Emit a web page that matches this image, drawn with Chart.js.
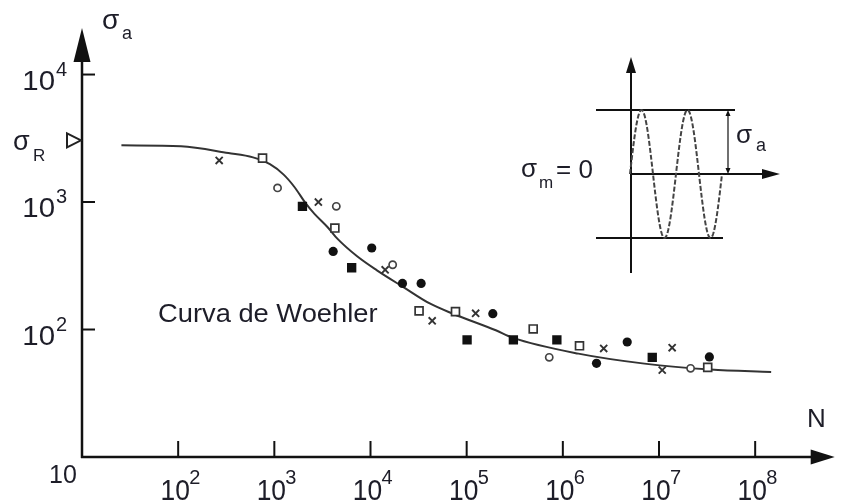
<!DOCTYPE html>
<html><head><meta charset="utf-8">
<script src="https://cdn.jsdelivr.net/npm/chart.js@4"></script>
<style>html,body{margin:0;padding:0;background:#fff;}canvas{display:block}</style>
</head><body>
<canvas id="c" width="842" height="502"></canvas>
<script>
// ---- data (N = cycles, S = stress amplitude) ----
const curveN = [25.7, 107, 333, 600, 900, 1250, 1618, 2133, 2600, 3565, 4520, 7260, 11670, 21980, 41300, 71900, 201000, 298500, 1.45e6, 7.05e6, 3.43e7, 1.466e8];
const curveS = [2786, 2735, 2421, 2240, 1980, 1640, 1312, 971, 811, 637, 516, 375, 291, 215, 160, 133, 98.6, 86.4, 64.7, 54.0, 48.5, 46.4];

const crossN = [267, 2870, 14200, 43800, 124000, 2.66e6, 1.37e7, 1.08e7];
const crossS = [2120, 1000, 294, 117, 134, 71, 72, 48];

const openSqN = [754, 4260, 32000, 76500, 492000, 1.49e6, 3.21e7];
const openSqS = [2210, 625, 140, 138, 101, 74.5, 50.5];

const openCircN = [1080, 4410, 17000, 722000, 2.13e7];
const openCircS = [1290, 925, 322, 60.5, 49.6];

const fillSqN = [1960, 6370, 101000, 306000, 867000, 8.51e6];
const fillSqS = [925, 305, 83, 83, 83, 60.5];

const fillCircN = [4090, 10300, 21500, 33600, 187000, 2.24e6, 4.67e6, 3.34e7];
const fillCircS = [410, 436, 230, 230, 133, 54.3, 79.8, 60.9];

const sigmaR = 3050;

const xTicks = [1e2, 1e3, 1e4, 1e5, 1e6, 1e7, 1e8];
const xTickExp = ['2', '3', '4', '5', '6', '7', '8'];
const yTicks = [1e2, 1e3, 1e4];
const yTickExp = ['2', '3', '4'];

const pts = (a, b) => a.map((v, i) => ({ x: v, y: b[i] }));

const INK = '#1d1d28';
const FONT = '"Liberation Sans", Arial, Helvetica, sans-serif';

function txt(ctx, s, x, y, size, align, sx) {
  ctx.save();
  ctx.font = size + 'px ' + FONT;
  ctx.textAlign = align || 'left';
  ctx.textBaseline = 'alphabetic';
  ctx.fillStyle = INK;
  ctx.translate(x, y);
  ctx.scale(sx || 1, 1);
  ctx.fillText(s, 0, 0);
  ctx.restore();
}
function seg(ctx, x1, y1, x2, y2) { ctx.beginPath(); ctx.moveTo(x1, y1); ctx.lineTo(x2, y2); ctx.stroke(); }
function tri(ctx, p) { ctx.beginPath(); ctx.moveTo(p[0], p[1]); ctx.lineTo(p[2], p[3]); ctx.lineTo(p[4], p[5]); ctx.closePath(); ctx.fill(); }

const axesPlugin = {
  id: 'axesPlugin',
  beforeDatasetsDraw(chart) {
    const ctx = chart.ctx, a = chart.chartArea, sx = chart.scales.x, sy = chart.scales.y;
    const X = v => sx.getPixelForValue(v), Y = v => sy.getPixelForValue(v);
    const x0 = a.left, y0 = a.bottom;
    ctx.save();
    ctx.strokeStyle = '#111'; ctx.fillStyle = '#111'; ctx.lineCap = 'butt';
    ctx.lineWidth = 2.5;
    seg(ctx, x0, y0 + 1, x0, a.top + 30);
    seg(ctx, x0 - 1, y0, a.right - 20, y0);
    tri(ctx, [x0, a.top, x0 - 8.5, a.top + 34, x0 + 8.5, a.top + 34]);
    tri(ctx, [a.right, y0, a.right - 24, y0 - 7.5, a.right - 24, y0 + 7.5]);
    ctx.lineWidth = 2;
    xTicks.forEach((v, i) => {
      const px = X(v);
      seg(ctx, px, y0, px, y0 - 16);
      txt(ctx, '10', px - 3, 500, 30, 'center', 0.88);
      txt(ctx, xTickExp[i], px + 11, 484, 20, 'left');
    });
    yTicks.forEach((v, i) => {
      const py = Y(v);
      seg(ctx, x0, py, x0 + 13, py);
      txt(ctx, '10', 55, py + 15, 28, 'right', 1.05);
      txt(ctx, yTickExp[i], 56, py + 1, 20, 'left');
    });
    txt(ctx, '10', 63, 483, 25, 'center');
    // sigma R marker (open triangle touching axis)
    const pr = Y(sigmaR);
    ctx.lineWidth = 2; ctx.fillStyle = '#fff'; ctx.strokeStyle = '#222';
    ctx.beginPath(); ctx.moveTo(x0 - 1, pr); ctx.lineTo(x0 - 15, pr - 7); ctx.lineTo(x0 - 15, pr + 7); ctx.closePath(); ctx.fill(); ctx.stroke();
    // axis titles
    txt(ctx, 'σ', 102, 29, 28); txt(ctx, 'a', 122, 39, 18);
    txt(ctx, 'σ', 13, 150, 27); txt(ctx, 'R', 33, 161, 17);
    txt(ctx, 'N', 807, 427, 26);
    txt(ctx, 'Curva de Woehler', 158, 322, 26, 'left', 1.05);
    // inset schematic
    const ix = 631, iy = 174, amp = 64, w = 92;
    ctx.strokeStyle = '#111'; ctx.fillStyle = '#111'; ctx.lineWidth = 2;
    seg(ctx, ix, 273, ix, 70);
    tri(ctx, [ix, 57, ix - 5, 73, ix + 5, 73]);
    seg(ctx, ix, iy, 765, iy);
    tri(ctx, [780, iy, 762, iy - 5, 762, iy + 5]);
    seg(ctx, 596, iy - amp, 735, iy - amp);
    seg(ctx, 596, iy + amp, 723, iy + amp);
    ctx.lineWidth = 1.2;
    seg(ctx, 728, iy - amp + 3, 728, iy - 3);
    tri(ctx, [728, iy - amp, 725.5, iy - amp + 6, 730.5, iy - amp + 6]);
    tri(ctx, [728, iy, 725.5, iy - 6, 730.5, iy - 6]);
    ctx.strokeStyle = '#444'; ctx.lineWidth = 2; ctx.setLineDash([5, 2]);
    ctx.beginPath();
    for (let k = 0; k <= 200; k++) {
      const t = k / 200, px = ix - 1 + t * w, py = iy - amp * Math.sin(2 * Math.PI * 2 * t);
      k ? ctx.lineTo(px, py) : ctx.moveTo(px, py);
    }
    ctx.stroke(); ctx.setLineDash([]);
    txt(ctx, 'σ', 736, 143, 26); txt(ctx, 'a', 756, 151, 18);
    txt(ctx, 'σ', 521, 177, 26); txt(ctx, 'm', 539, 188, 17); txt(ctx, '= 0', 556, 178, 26);
    ctx.restore();
  }
};

new Chart(document.getElementById('c'), {
  type: 'scatter',
  data: {
    datasets: [
      { label: 'x', data: pts(crossN, crossS), pointStyle: 'crossRot', pointRadius: 5, borderColor: '#333', borderWidth: 1.9 },
      { label: 'open square', data: pts(openSqN, openSqS), pointStyle: 'rect', pointRadius: 5.6, borderColor: '#333', backgroundColor: '#fff', borderWidth: 1.7 },
      { label: 'open circle', data: pts(openCircN, openCircS), pointStyle: 'circle', pointRadius: 3.6, borderColor: '#444', backgroundColor: '#fff', borderWidth: 1.7 },
      { label: 'filled square', data: pts(fillSqN, fillSqS), pointStyle: 'rect', pointRadius: 6.6, borderColor: '#111', backgroundColor: '#111', borderWidth: 0 },
      { label: 'filled circle', data: pts(fillCircN, fillCircS), pointStyle: 'circle', pointRadius: 4.6, borderColor: '#111', backgroundColor: '#111', borderWidth: 0 },
      { label: 'Curva de Woehler', data: pts(curveN, curveS), showLine: true, pointRadius: 0, borderColor: '#333', borderWidth: 2, tension: 0.4, cubicInterpolationMode: 'monotone' }
    ]
  },
  options: {
    responsive: false,
    animation: false,
    events: [],
    layout: { padding: { left: 82, right: 0, top: 28, bottom: 45 } },
    scales: {
      x: { type: 'logarithmic', min: 10, max: Math.pow(10, 8.827), display: false },
      y: { type: 'logarithmic', min: 10, max: Math.pow(10, 4.365), display: false }
    },
    plugins: { legend: { display: false }, tooltip: { enabled: false } }
  },
  plugins: [axesPlugin]
});
</script>
</body></html>
